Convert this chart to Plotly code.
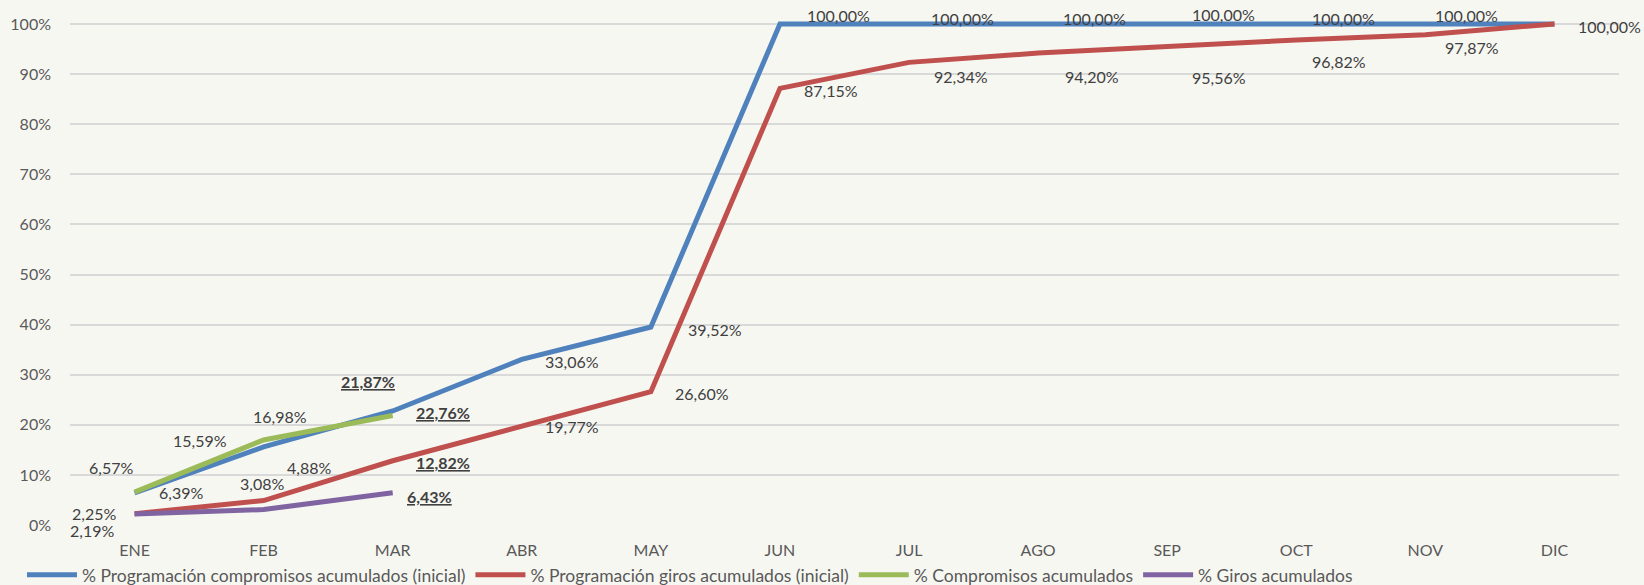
import plotly.graph_objects as go

months = ["ENE", "FEB", "MAR", "ABR", "MAY", "JUN", "JUL", "AGO", "SEP", "OCT", "NOV", "DIC"]
prog_compromisos = [6.39, 15.59, 22.76, 33.06, 39.52, 100, 100, 100, 100, 100, 100, 100]
prog_giros = [2.25, 4.88, 12.82, 19.77, 26.60, 87.15, 92.34, 94.20, 95.56, 96.82, 97.87, 100]
compromisos = [6.57, 16.98, 21.87]
giros = [2.19, 3.08, 6.43]

names = [
    "% Programación compromisos acumulados (inicial)",
    "% Programación giros acumulados (inicial)",
    "% Compromisos acumulados",
    "% Giros acumulados",
]
colors = ["#4f81bd", "#c0504d", "#9bbb59", "#8064a2"]
BG = "#f7f7f2"

# label offsets in screen pixels (dx right, dy down); None = no label
off_blue = [(46, 0), (-64, -6), (50, 2), (50, 2), (64, 2), (59, -9), (53, -6), (56, -6),
            (56, -10), (47, -6), (41, -9), None]
off_red = [(-41, 0), (45, -33), (50, 2), (50, 1), (51, 2), (51, 2), (52, 14), (54, 23),
           (52, 31), (43, 22), (47, 13), (55, 2)]
off_green = [(-24, -25), (16, -23), (-25, -34)]
off_purple = [(-43, 16), (-2, -26), (37, 4)]

FONT = "Lato"
series = [
    (prog_compromisos, off_blue),
    (prog_giros, off_red),
    (compromisos, off_green),
    (giros, off_purple),
]

fig = go.Figure()
annotations = []
for (vals, offs), name, col in zip(series, names, colors):
    xs = months[: len(vals)]
    fig.add_trace(go.Scatter(
        x=xs, y=vals, mode="lines", name=name,
        line=dict(color=col, width=5),
        hoverinfo="skip",
    ))
    for i, (xv, v, o) in enumerate(zip(xs, vals, offs)):
        if o is None:
            continue
        bold = (xv == "MAR")
        txt = f"{v:.2f}".replace(".", ",") + "%"
        annotations.append(dict(
            x=xv, y=v, xref="x", yref="y", text=txt, showarrow=False,
            xshift=o[0], yshift=-o[1],
            font=dict(family=FONT, size=16, color="#404040",
                      weight="bold" if bold else "normal",
                      lineposition="under" if bold else "none"),
        ))

fig.update_layout(
    width=1644, height=585,
    paper_bgcolor=BG, plot_bgcolor=BG,
    margin=dict(l=70, r=25, t=21, b=60, autoexpand=False),
    font=dict(family=FONT, size=16, color="#595959"),
    showlegend=True,
    legend=dict(orientation="h", x=-0.031, xanchor="left", y=-0.0992, yanchor="middle",
                font=dict(family=FONT, size=17.5, color="#595959"),
                bgcolor="rgba(0,0,0,0)", itemwidth=50, tracegroupgap=0),
    annotations=annotations,
)
fig.update_xaxes(
    type="category", categoryorder="array", categoryarray=months,
    range=[-0.5, 11.5], showgrid=False, showline=False, zeroline=False, automargin=False,
    tickfont=dict(family=FONT, size=16, color="#595959"), ticks="", ticklabelstandoff=14,
)
fig.update_yaxes(
    range=[0, 100.6], tickvals=[0, 10, 20, 30, 40, 50, 60, 70, 80, 90, 100],
    ticktext=[f"{t}%" for t in range(0, 101, 10)],
    showgrid=True, gridcolor="#d9d9d9", gridwidth=2, zeroline=False, showline=False,
    automargin=False,
    tickfont=dict(family=FONT, size=16, color="#595959"), ticks="", ticklabelstandoff=18,
)

fig.write_html(
    "out.html",
    config={"displayModeBar": False},
    post_script=(
        "document.body.style.margin='0';"
        f"document.body.style.background='{BG}';"
        "document.body.style.overflow='hidden';"
    ),
)
